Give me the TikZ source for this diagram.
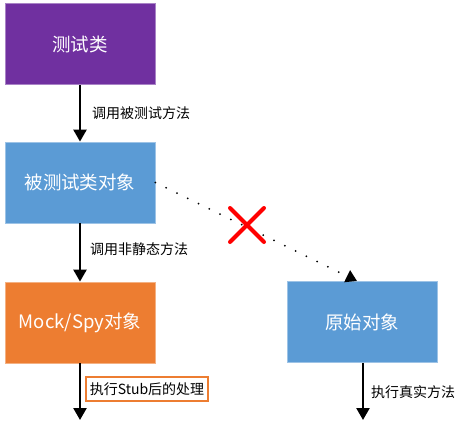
\documentclass[tikz,border=0pt]{standalone}
\usepackage{fontspec}
\setmainfont{Noto Sans CJK SC}
\usetikzlibrary{arrows.meta,calc}
\definecolor{boxpurple}{HTML}{7030A0}
\definecolor{boxblue}{HTML}{5B9BD5}
\definecolor{boxorange}{HTML}{ED7D31}
\tikzset{
  objbox/.style={minimum width=150pt, minimum height=81pt, text=white,
    font=\fontsize{18.5}{22}\selectfont, draw=#1!60!white, fill=#1, line width=0.8pt},
  flow/.style={line width=2.4pt, -{Triangle[width=13pt,length=12pt]}},
  note/.style={font=\fontsize{14}{16}\selectfont, inner sep=1pt, anchor=west}
}
\begin{document}
\begin{tikzpicture}[x=1pt,y=-1pt]
  \useasboundingbox (0,0) rectangle (467,421);
  \node[objbox=boxpurple] (cls)  at (80,44)    {测试类};
  \node[objbox=boxblue]   (obj)  at (80,182.5) {被测试类对象};
  \node[objbox=boxorange] (mock) at (80,322.5) {Mock/Spy对象};
  \node[objbox=boxblue]   (orig) at (362,322)  {原始对象};
  \coordinate (mockend) at (80,420);
  \coordinate (origend) at (363,420);
  \coordinate (hit) at (357,281);
  % calls
  \draw[flow] (cls) -- (obj) node[note, midway, xshift=10pt] {调用被测试方法};
  \draw[flow] (obj) -- (mock) node[note, midway, xshift=8pt, yshift=3.5pt] {调用非静态方法};
  \draw[flow] (mock.south) -- (mockend);
  \draw[flow] (orig.south -| origend) -- (origend);
  \node[draw=boxorange, line width=1.6pt, fill=white, inner sep=2pt,
        minimum width=122pt, minimum height=24pt,
        font=\fontsize{14}{16}\selectfont] (stub) at (147,389) {执行Stub后的处理};
  \node[note] (real) at (370,392) {执行真实方法};
  % blocked path to the real object
  \draw[line width=2pt, line cap=round, dash pattern=on 0pt off 12pt,
        -{Triangle[width=13pt,length=11pt]}] (obj.east) -- (hit);
  \node (cross) at (247,225) {};
  \draw[red, line width=4pt, line cap=round]
    ($(cross)+(-17,-17)$) -- ($(cross)+(17,17)$)
    ($(cross)+(17,-17)$) -- ($(cross)+(-17,17)$);
\end{tikzpicture}
\end{document}
